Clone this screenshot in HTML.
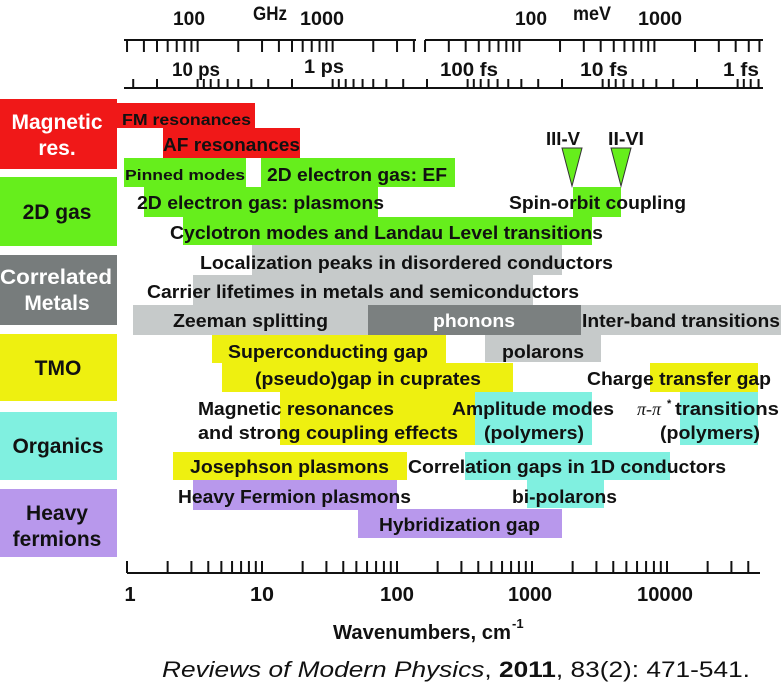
<!DOCTYPE html>
<html><head><meta charset="utf-8"><style>
html,body{margin:0;padding:0;background:#fff}
svg{display:block}
text{font-family:"Liberation Sans",Arial,sans-serif;font-weight:bold;fill:#111}
.b{font-size:18px}
</style></head><body>
<svg id="s" width="781" height="697" viewBox="0 0 781 697" xmlns="http://www.w3.org/2000/svg">
<rect x="0" y="99" width="117" height="70" fill="#f01818"/>
<rect x="0" y="177" width="117" height="69" fill="#66ee1c"/>
<rect x="0" y="255" width="117" height="70" fill="#777c7c"/>
<rect x="0" y="334" width="117" height="67" fill="#eef010"/>
<rect x="0" y="412" width="117" height="68" fill="#80f0e0"/>
<rect x="0" y="489" width="117" height="68" fill="#b898ec"/>
<g style="font-size:21px" text-anchor="middle">
<text x="57" y="129" style="fill:#fff">Magnetic</text>
<text x="57" y="155" style="fill:#fff">res.</text>
<text x="57" y="219">2D gas</text>
<text x="56" y="284" style="fill:#fff" textLength="112" lengthAdjust="spacingAndGlyphs">Correlated</text>
<text x="57" y="310" style="fill:#fff">Metals</text>
<text x="58" y="375">TMO</text>
<text x="58" y="453">Organics</text>
<text x="57" y="520">Heavy</text>
<text x="57" y="546">fermions</text>
</g>
<g>
<rect x="117" y="103" width="138" height="25" fill="#f01818"/>
<rect x="163" y="128" width="137" height="30" fill="#f01818"/>
<rect x="124" y="158" width="122" height="29" fill="#66ee1c"/>
<rect x="261" y="158" width="194" height="29" fill="#66ee1c"/>
<rect x="144" y="187" width="234" height="30" fill="#66ee1c"/>
<rect x="573" y="187" width="48" height="30" fill="#66ee1c"/>
<rect x="183" y="217" width="409" height="28" fill="#66ee1c"/>
<rect x="252" y="245" width="310" height="30" fill="#c6caca"/>
<rect x="193" y="275" width="340" height="30" fill="#c6caca"/>
<rect x="133" y="305" width="237" height="30" fill="#c6caca"/>
<rect x="368" y="305" width="213" height="30" fill="#7b8080"/>
<rect x="581" y="305" width="200" height="30" fill="#c6caca"/>
<rect x="212" y="335" width="234" height="28" fill="#eef010"/>
<rect x="485" y="335" width="116" height="27" fill="#c6caca"/>
<rect x="222" y="363" width="291" height="29" fill="#eef010"/>
<rect x="650" y="363" width="108" height="29" fill="#eef010"/>
<rect x="280" y="392" width="195" height="53" fill="#eef010"/>
<rect x="475" y="392" width="117" height="53" fill="#80f0e0"/>
<rect x="680" y="392" width="78" height="53" fill="#80f0e0"/>
<rect x="173" y="452" width="234" height="28" fill="#eef010"/>
<rect x="465" y="452" width="205" height="28" fill="#80f0e0"/>
<rect x="193" y="480" width="204" height="30" fill="#b898ec"/>
<rect x="527" y="480" width="77" height="28" fill="#80f0e0"/>
<rect x="358" y="509" width="204" height="29" fill="#b898ec"/>
</g>
<polygon points="562,148 582,148 572,186" fill="#66ee1c" stroke="#333" stroke-width="1"/>
<polygon points="611,148 631,148 621,186" fill="#66ee1c" stroke="#333" stroke-width="1"/>
<g>
<text x="122" y="125" style="font-size:16px" textLength="129" lengthAdjust="spacingAndGlyphs">FM resonances</text>
<text x="163" y="151" class="b" textLength="137" lengthAdjust="spacingAndGlyphs">AF resonances</text>
<text x="125" y="180" style="font-size:15px" textLength="120" lengthAdjust="spacingAndGlyphs">Pinned modes</text>
<text x="267" y="181" class="b" textLength="180" lengthAdjust="spacingAndGlyphs">2D electron gas: EF</text>
<text x="137" y="209" class="b" textLength="247" lengthAdjust="spacingAndGlyphs">2D electron gas: plasmons</text>
<text x="509" y="209" class="b" textLength="177" lengthAdjust="spacingAndGlyphs">Spin-orbit coupling</text>
<text x="546" y="145" class="b" textLength="34" lengthAdjust="spacingAndGlyphs">III-V</text>
<text x="608" y="145" class="b" textLength="36" lengthAdjust="spacingAndGlyphs">II-VI</text>
<text x="170" y="239" class="b" textLength="433" lengthAdjust="spacingAndGlyphs">Cyclotron modes and Landau Level transitions</text>
<text x="200" y="269" class="b" textLength="413" lengthAdjust="spacingAndGlyphs">Localization peaks in disordered conductors</text>
<text x="147" y="298" class="b" textLength="432" lengthAdjust="spacingAndGlyphs">Carrier lifetimes in metals and semiconductors</text>
<text x="173" y="327" class="b" textLength="155" lengthAdjust="spacingAndGlyphs">Zeeman splitting</text>
<text x="433" y="327" class="b" style="fill:#fff" textLength="82" lengthAdjust="spacingAndGlyphs">phonons</text>
<text x="582" y="327" class="b" textLength="198" lengthAdjust="spacingAndGlyphs">Inter-band transitions</text>
<text x="228" y="358" class="b" textLength="200" lengthAdjust="spacingAndGlyphs">Superconducting gap</text>
<text x="502" y="358" class="b" textLength="82" lengthAdjust="spacingAndGlyphs">polarons</text>
<text x="255" y="385" class="b" textLength="226" lengthAdjust="spacingAndGlyphs">(pseudo)gap in cuprates</text>
<text x="587" y="385" class="b" textLength="184" lengthAdjust="spacingAndGlyphs">Charge transfer gap</text>
<text x="198" y="415" class="b" textLength="196" lengthAdjust="spacingAndGlyphs">Magnetic resonances</text>
<text x="198" y="439" class="b" textLength="260" lengthAdjust="spacingAndGlyphs">and  strong coupling effects</text>
<text x="452" y="415" class="b" textLength="162" lengthAdjust="spacingAndGlyphs">Amplitude modes</text>
<text x="484" y="439" class="b" textLength="100" lengthAdjust="spacingAndGlyphs">(polymers)</text>
<text x="637" y="415" style="font-size:18px;font-family:'Liberation Serif',serif;font-style:italic;font-weight:normal">π-π</text>
<text x="667" y="407" style="font-size:11px">*</text>
<text x="675" y="415" class="b" textLength="104" lengthAdjust="spacingAndGlyphs">transitions</text>
<text x="660" y="439" class="b" textLength="100" lengthAdjust="spacingAndGlyphs">(polymers)</text>
<text x="190" y="473" class="b" textLength="199" lengthAdjust="spacingAndGlyphs">Josephson plasmons</text>
<text x="408" y="473" class="b" textLength="318" lengthAdjust="spacingAndGlyphs">Correlation gaps in 1D conductors</text>
<text x="178" y="503" class="b" textLength="233" lengthAdjust="spacingAndGlyphs">Heavy Fermion plasmons</text>
<text x="512" y="503" class="b" textLength="105" lengthAdjust="spacingAndGlyphs">bi-polarons</text>
<text x="379" y="531" class="b" textLength="161" lengthAdjust="spacingAndGlyphs">Hybridization gap</text>
</g>
<g style="font-size:19px" text-anchor="middle">
<text x="189" y="25" textLength="32" lengthAdjust="spacingAndGlyphs">100</text>
<text x="270" y="20" textLength="34" lengthAdjust="spacingAndGlyphs">GHz</text>
<text x="322" y="25" textLength="44" lengthAdjust="spacingAndGlyphs">1000</text>
<text x="531" y="25" textLength="32" lengthAdjust="spacingAndGlyphs">100</text>
<text x="592" y="20" textLength="38" lengthAdjust="spacingAndGlyphs">meV</text>
<text x="660" y="25" textLength="44" lengthAdjust="spacingAndGlyphs">1000</text>
<text x="196" y="76" textLength="48" lengthAdjust="spacingAndGlyphs">10 ps</text>
<text x="324" y="73" textLength="40" lengthAdjust="spacingAndGlyphs">1 ps</text>
<text x="469" y="76" textLength="58" lengthAdjust="spacingAndGlyphs">100 fs</text>
<text x="604" y="76" textLength="48" lengthAdjust="spacingAndGlyphs">10 fs</text>
<text x="741" y="76" textLength="36" lengthAdjust="spacingAndGlyphs">1 fs</text>
</g>
<g style="font-size:20px" text-anchor="middle">
<text x="130" y="601">1</text>
<text x="262" y="601" textLength="24" lengthAdjust="spacingAndGlyphs">10</text>
<text x="397" y="601" textLength="34" lengthAdjust="spacingAndGlyphs">100</text>
<text x="530" y="601" textLength="44" lengthAdjust="spacingAndGlyphs">1000</text>
<text x="665" y="601" textLength="56" lengthAdjust="spacingAndGlyphs">10000</text>
<text x="422" y="639" textLength="178" lengthAdjust="spacingAndGlyphs">Wavenumbers, cm</text>
</g>
<text x="512" y="628" style="font-size:13px">-1</text>
<text x="162" y="677" style="font-size:22px;font-weight:normal" textLength="588" lengthAdjust="spacingAndGlyphs"><tspan style="font-style:italic">Reviews of Modern Physics</tspan>, <tspan style="font-weight:bold">2011</tspan>, 83(2): 471-541.</text>
<g id="ax" stroke="#111" stroke-width="2" fill="none">
<line x1="124" y1="40" x2="416" y2="40"/>
<line x1="425" y1="40" x2="763" y2="40"/>
<line x1="124" y1="88" x2="763" y2="88"/>
<line x1="127" y1="573" x2="760" y2="573"/>
</g>
</svg>
<script>
(function(){
var g=document.getElementById('ax'),NS='http://www.w3.org/2000/svg';
function X(v){return 127+135*Math.log10(v);}
function L(x,y1,y2){var l=document.createElementNS(NS,'line');l.setAttribute('x1',x);l.setAttribute('x2',x);l.setAttribute('y1',y1);l.setAttribute('y2',y2);g.appendChild(l);}
var k,n,x;
for(k=0;k<5;k++)for(n=1;n<10;n++){x=X(n*Math.pow(10,k));if(x<=761)L(x,561,573);}
for(k=1;k<4;k++)for(n=1;n<10;n++){x=X(n*Math.pow(10,k)/29.98);if(x>=124&&x<=416)L(x,40,52);}
for(k=1;k<4;k++)for(n=1;n<10;n++){x=X(n*Math.pow(10,k)*8.0655);if(x>=425&&x<=763)L(x,40,52);}
for(k=-1;k<5;k++)for(n=1;n<10;n++){x=X(33356/(n*Math.pow(10,k)));if(x>=124&&x<=763)L(x,79,88);}
})();
</script>
</body></html>
